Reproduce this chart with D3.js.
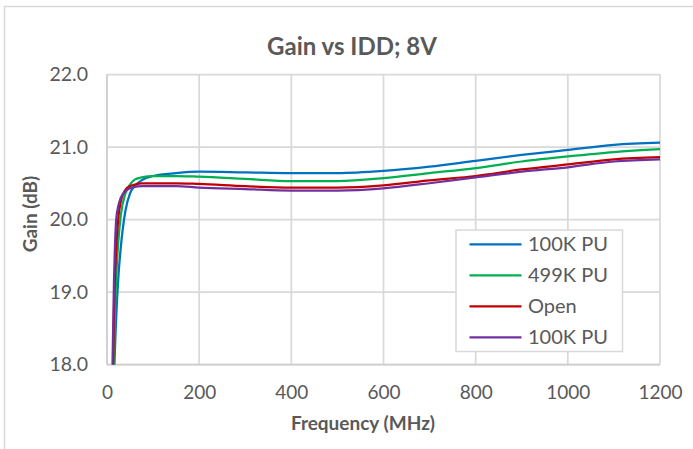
<!DOCTYPE html>
<html>
<head>
<meta charset="utf-8">
<script src="https://cdn.jsdelivr.net/npm/d3@7"></script>
<style>
  html, body { margin: 0; padding: 0; background: #ffffff; }
  svg { display: block; }
  text { font-family: Lato, "Open Sans", sans-serif; fill: #595959; }
</style>
</head>
<body>
<svg id="chart" width="693" height="449"></svg>
<script>
// ---- data ----
const chartTitle = "Gain vs IDD; 8V";
const xTitle = "Frequency (MHz)";
const yTitle = "Gain (dB)";
const xTicks = [0, 200, 400, 600, 800, 1000, 1200];
const yTicks = [18.0, 19.0, 20.0, 21.0, 22.0];
const freqMHz = [10, 15, 20, 25, 30, 40, 50, 60, 75, 100, 150, 200, 300, 400, 500, 600, 700, 800, 900, 1000, 1100, 1200];
const seriesNames = ["100K PU", "499K PU", "Open", "100K PU"];
const seriesColors = ["#0070C0", "#00B050", "#C00000", "#7030A0"];
const gain100kPU = [15.6, 17.7, 18.65, 19.24, 19.62, 20.12, 20.36, 20.46, 20.54, 20.60, 20.64, 20.66, 20.65, 20.64, 20.64, 20.67, 20.73, 20.81, 20.89, 20.96, 21.03, 21.06];
const gain499kPU = [16.3, 18.15, 19.2, 19.73, 20.06, 20.36, 20.48, 20.55, 20.58, 20.60, 20.60, 20.59, 20.56, 20.53, 20.53, 20.57, 20.64, 20.71, 20.80, 20.87, 20.93, 20.97];
const gainOpen   = [16.6, 18.7, 19.6, 20.05, 20.25, 20.41, 20.46, 20.48, 20.50, 20.50, 20.50, 20.49, 20.46, 20.44, 20.44, 20.47, 20.54, 20.60, 20.69, 20.76, 20.83, 20.86];
const gain100kPU2 = [17.3, 19.1, 20.0, 20.2, 20.3, 20.39, 20.43, 20.45, 20.46, 20.46, 20.46, 20.44, 20.42, 20.40, 20.40, 20.43, 20.50, 20.58, 20.66, 20.72, 20.80, 20.83];
const seriesValues = [gain100kPU, gain499kPU, gainOpen, gain100kPU2];

// ---- layout ----
const svg = d3.select("#chart");
const plot = { left: 107, right: 660, top: 74.5, bottom: 364.5 };
const x = d3.scaleLinear().domain([0, 1200]).range([plot.left, plot.right]);
const y = d3.scaleLinear().domain([18, 22]).range([plot.bottom, plot.top]);

// outer frame
svg.append("rect").attr("x", 4.5).attr("y", 6.5).attr("width", 720).attr("height", 460)
  .attr("fill", "#fff").attr("stroke", "#d9d9d9").attr("stroke-width", 1.5);

// gridlines
const grid = svg.append("g");
grid.selectAll("line.h").data(yTicks).join("line")
  .attr("x1", plot.left).attr("x2", plot.right)
  .attr("y1", d => y(d)).attr("y2", d => y(d))
  .attr("stroke", "#d9d9d9").attr("stroke-width", 1.75);
grid.selectAll("line.v").data(xTicks).join("line")
  .attr("y1", plot.top).attr("y2", plot.bottom)
  .attr("x1", d => x(d)).attr("x2", d => x(d))
  .attr("stroke", "#d9d9d9").attr("stroke-width", 1.75);

// axes labels via d3 axes
const yAxis = d3.axisLeft(y).tickValues(yTicks).tickFormat(d3.format(".1f")).tickSize(0).tickPadding(19);
const gy = svg.append("g").attr("transform", `translate(${plot.left},0)`).call(yAxis);
gy.select(".domain").remove();
gy.selectAll("text").style("font-family", "Lato, sans-serif").style("font-size", "19.5px").attr("fill", "#595959");

const xAxis = d3.axisBottom(x).tickValues(xTicks).tickFormat(d3.format("d")).tickSize(0).tickPadding(21);
const gx = svg.append("g").attr("transform", `translate(0,${plot.bottom})`).call(xAxis);
gx.select(".domain").remove();
gx.selectAll("text").style("font-family", "Lato, sans-serif").style("font-size", "19px").attr("fill", "#595959");

// axis lines
svg.append("line").attr("x1", plot.left).attr("x2", plot.left).attr("y1", plot.top).attr("y2", plot.bottom)
  .attr("stroke", "#cfcfcf").attr("stroke-width", 1.75);
svg.append("line").attr("x1", plot.left).attr("x2", plot.right).attr("y1", plot.bottom).attr("y2", plot.bottom)
  .attr("stroke", "#cfcfcf").attr("stroke-width", 1.75);

// clip
svg.append("clipPath").attr("id", "clip").append("rect")
  .attr("x", plot.left).attr("y", plot.top - 5).attr("width", plot.right - plot.left + 5).attr("height", plot.bottom - plot.top + 5);

const line = d3.line().curve(d3.curveMonotoneX)
  .x((d, i) => x(freqMHz[i])).y(d => y(d));
const lines = svg.append("g").attr("clip-path", "url(#clip)");
lines.selectAll("path").data(seriesValues).join("path")
  .attr("d", d => line(d))
  .attr("fill", "none")
  .attr("stroke", (d, i) => seriesColors[i])
  .attr("stroke-width", 2.25)
  .attr("stroke-linejoin", "round");

// titles
svg.append("text").attr("x", 352).attr("y", 55).attr("text-anchor", "middle")
  .style("font-size", "24px").style("font-weight", "bold").text(chartTitle);
svg.append("text").attr("x", 363).attr("y", 430).attr("text-anchor", "middle")
  .style("font-size", "19px").style("font-weight", "bold").text(xTitle);
svg.append("text").attr("transform", "translate(37,214) rotate(-90)").attr("text-anchor", "middle")
  .style("font-size", "19px").style("font-weight", "bold").text(yTitle);

// legend
const lg = svg.append("g");
lg.append("rect").attr("x", 456).attr("y", 230).attr("width", 166.5).attr("height", 121.5)
  .attr("fill", "#fff").attr("stroke", "#d9d9d9").attr("stroke-width", 1.5);
const rowY = d3.scalePoint().domain(d3.range(seriesNames.length)).range([244.3, 337.3]);
const rows = lg.selectAll("g.row").data(seriesNames).join("g").attr("class", "row")
  .attr("transform", (d, i) => `translate(0,${rowY(i)})`);
rows.append("line").attr("x1", 469.5).attr("x2", 521.5).attr("y1", 0).attr("y2", 0)
  .attr("stroke", (d, i) => seriesColors[i]).attr("stroke-width", 2.25);
rows.append("text").attr("x", 528).attr("y", 0).attr("dy", "0.35em")
  .style("font-size", "20px").text(d => d);
</script>
</body>
</html>
